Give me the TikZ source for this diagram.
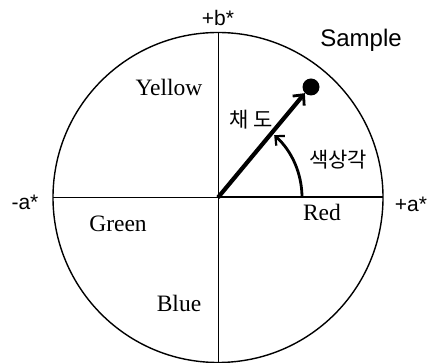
\documentclass[tikz,border=0pt]{standalone}
\usepackage{fontspec}
\setmainfont{Liberation Serif}
\newfontfamily\lsans{Liberation Sans}
\newfontfamily\kor{Noto Sans CJK KR}
\usetikzlibrary{arrows.meta}
\tikzset{
  axis/.style={line width=0.8pt},
  colorlbl/.style={font=\fontsize{23.5}{25}\selectfont},
  axislbl/.style={font=\lsans\fontsize{21}{23}\selectfont},
  korlbl/.style={font=\kor\fontsize{21}{23}\selectfont},
  vec/.style={line width=4.2pt,-{Straight Barb[length=8pt,width=15pt,line width=2.8pt]}},
}
\begin{document}
\begin{tikzpicture}[x=1pt,y=-1pt]
\useasboundingbox (0,0) rectangle (429,363);
\coordinate (O) at (218,197.5);
\draw[line width=1.4pt] (O) circle[radius=165];
\coordinate (L) at (53,197.5);
\coordinate (R) at (383,197.5);
\coordinate (T) at (218,32.5);
\coordinate (B) at (218,362.5);
\draw[axis] (L) -- (O);
\draw[line width=2pt] (O) -- (R);
\draw[axis] (T) -- (B);
\node[circle,fill=black,inner sep=0pt,minimum size=17pt] (S) at (311,87) {};
\draw[vec] (O) -- (S.south west);
\draw[line width=2.8pt,-{Straight Barb[length=7pt,width=13pt,line width=2.2pt]}] (302,197.5) arc[start angle=0,end angle=-48,radius=84];
\node[axislbl] (pb) at (218,18) {+b*};
\node[axislbl] (ma) at (25,202) {-a*};
\node[axislbl] (pa) at (411,204) {+a*};
\node[font=\lsans\fontsize{24}{26}\selectfont] (smp) at (361,40) {Sample};
\node[colorlbl] (yel) at (169,87) {Yellow};
\node[colorlbl] (red) at (322,212) {Red};
\node[colorlbl] (grn) at (118,224) {Green};
\node[colorlbl] (blu) at (179,303) {Blue};
\node[korlbl] (cd) at (251,120) {채 도};
\node[korlbl] (hue) at (338,160) {색상각};
\end{tikzpicture}
\end{document}
